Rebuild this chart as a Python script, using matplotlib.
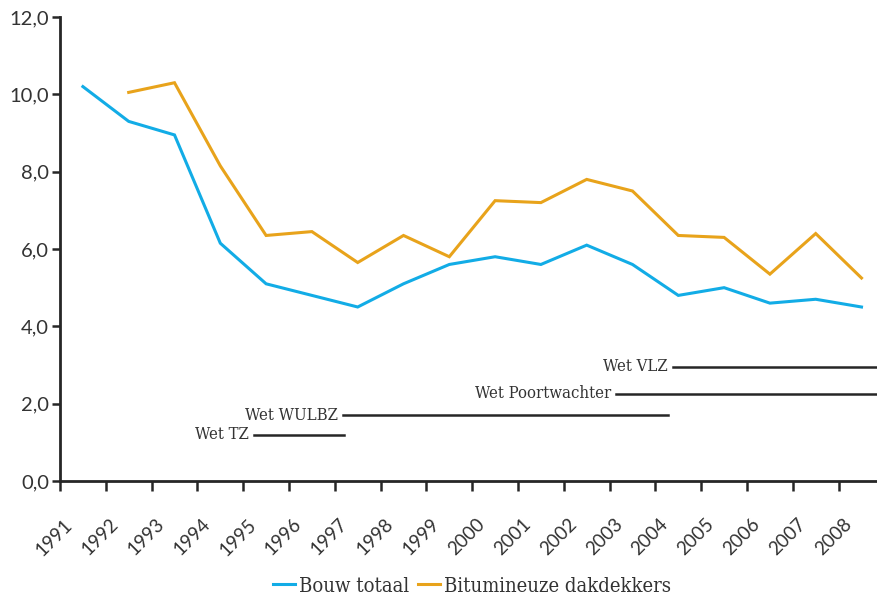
import matplotlib
matplotlib.use("Agg")
import matplotlib.pyplot as plt
import matplotlib.transforms as mtransforms
import numpy as np

# data
years = ["1991", "1992", "1993", "1994", "1995", "1996", "1997", "1998", "1999",
         "2000", "2001", "2002", "2003", "2004", "2005", "2006", "2007", "2008"]
bouw_totaal = [10.2, 9.3, 8.95, 6.15, 5.1, 4.8, 4.5, 5.1, 5.6,
               5.8, 5.6, 6.1, 5.6, 4.8, 5.0, 4.6, 4.7, 4.5]
bitumineuze = [np.nan, 10.05, 10.3, 8.15, 6.35, 6.45, 5.65, 6.35, 5.8,
               7.25, 7.2, 7.8, 7.5, 6.35, 6.3, 5.35, 6.4, 5.25]

# law periods: (label, level, start, end) in category units
wetten = [
    ("Wet TZ", 1.2, 4.24, 6.2),
    ("Wet WULBZ", 1.7, 6.18, 13.27),
    ("Wet Poortwachter", 2.25, 12.15, 18.5),
    ("Wet VLZ", 2.95, 13.38, 18.5),
]

blue = "#12ACE6"
orange = "#E8A31B"
dark = "#262626"
text_col = "#333333"
serif = ["DejaVu Serif"]
sans = ["Lato", "DejaVu Sans"]

fig = plt.figure(figsize=(8.78, 5.99), dpi=100)
ax = fig.add_axes([60 / 878, 118 / 599, 824.4 / 878, 464 / 599])

x = np.arange(len(years)) + 0.5
ax.plot(x, bouw_totaal, color=blue, lw=2.2, label="Bouw totaal", solid_joinstyle="miter")
ax.plot(x, bitumineuze, color=orange, lw=2.2, label="Bitumineuze dakdekkers", solid_joinstyle="miter")

for label, level, start, end in wetten:
    ax.plot([start, end], [level, level], color=dark, lw=1.8, clip_on=False)
    ax.text(start - 0.12, level, label, ha="right", va="center", fontsize=12,
            family=serif, color=text_col, stretch="condensed")

ax.set_xlim(0, len(years))
ax.set_ylim(0, 12)

ax.spines["top"].set_visible(False)
ax.spines["right"].set_visible(False)
for s in ("left", "bottom"):
    ax.spines[s].set_color(dark)
    ax.spines[s].set_linewidth(2)

ax.set_yticks(np.arange(0, 13, 2))
ax.set_yticklabels([f"{v:.1f}".replace(".", ",") for v in np.arange(0, 13, 2)],
                   fontsize=14.5, family=sans, color=text_col)
ax.tick_params(axis="y", length=6, width=1.8, color=dark, pad=2)

ax.set_xticks(np.arange(len(years)))
ax.set_xticklabels([])
ax.set_xticks(x, minor=True)
ax.set_xticklabels(years, minor=True, rotation=45, ha="right", va="top",
                   fontsize=13.5, family=sans, color=text_col)
ax.tick_params(axis="x", which="major", length=7, width=1.8, color=dark)
ax.tick_params(axis="x", which="minor", length=0, pad=25)
offset = mtransforms.ScaledTranslation(-7 / 100, 0, fig.dpi_scale_trans)
for lbl in ax.get_xticklabels(minor=True):
    lbl.set_transform(lbl.get_transform() + offset)

leg = fig.legend(loc="center", bbox_to_anchor=(472 / 878, 1 - 586 / 599), ncol=2,
                 frameon=False, handlelength=1.1, handletextpad=0.2, columnspacing=0.45,
                 prop={"family": serif, "size": 14.5, "stretch": "condensed"})
for t in leg.get_texts():
    t.set_color(text_col)

fig.savefig("out.png", dpi=100, facecolor="white")
